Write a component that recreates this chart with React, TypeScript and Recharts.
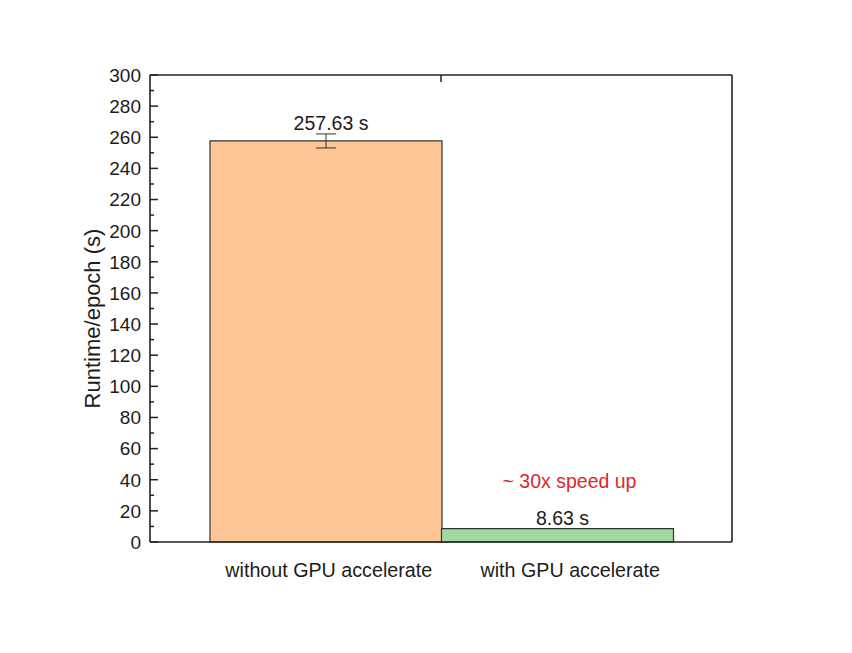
import React from 'react';
import { BarChart, Bar, XAxis, YAxis, Cell, ErrorBar, LabelList } from 'recharts';

const categories = ['without GPU accelerate', 'with GPU accelerate'];
const runtimes = [257.63, 8.63];
const errors = [4.5, null];
const barColors = ['#FEC697', '#A2D9A0'];
const yTicks = [0, 10, 20, 30, 40, 50, 60, 70, 80, 90, 100, 110, 120, 130, 140, 150, 160, 170, 180, 190, 200, 210, 220, 230, 240, 250, 260, 270, 280, 290, 300];
const speedNote = '~ 30x speed up';

const data = categories.map((name, i) => ({ name, runtime: runtimes[i], err: errors[i] }));

const FONT = '"Liberation Sans", Arial, sans-serif';
const INK = '#1c1c1c';
const AXIS = '#222';
const RED = '#E0262C';

// labels sit a little right of the band centre in the original
const xLabelShift = [3, 13];

const LeftTick = ({ x, y, payload }: any) => {
  const major = payload.value % 20 === 0;
  return (
    <g>
      <line x1={x} y1={y} x2={x + (major ? 8 : 4)} y2={y} stroke={AXIS} strokeWidth={1.5} />
      {major && (
        <text x={x - 9} y={y} dy="0.36em" textAnchor="end" fontSize={19} fill={INK} fontFamily={FONT}>
          {payload.value}
        </text>
      )}
    </g>
  );
};

const RightTick = ({ x, y, payload }: any) => {
  const major = payload.value % 20 === 0;
  return <line x1={x} y1={y} x2={x - (major ? 8 : 4)} y2={y} stroke={AXIS} strokeWidth={1.5} />;
};

const TopTick = ({ x, y }: any) => <line x1={x} y1={y} x2={x} y2={y + 7} stroke={AXIS} strokeWidth={1.5} />;

const BottomTick = ({ x, y, payload, index }: any) => (
  <text x={x + (xLabelShift[index] ?? 0)} y={y + 35} textAnchor="middle" fontSize={19.7} fill={INK} fontFamily={FONT}>
    {payload.value}
  </text>
);

const ValueLabel = (props: any) => {
  const { x, y, width, value, index } = props;
  const cx = x + width / 2;
  const lift = index === 0 ? 11 : 4;
  return (
    <g fontFamily={FONT}>
      <text x={cx + 5} y={y - lift} textAnchor="middle" fontSize={19.5} fill={INK}>
        {`${value} s`}
      </text>
      {index === 1 && (
        <text x={cx + 12} y={y - 41} textAnchor="middle" fontSize={19.5} fill={RED}>
          {speedNote}
        </text>
      )}
    </g>
  );
};

const YTitle = ({ viewBox }: any) => {
  const cx = viewBox.x + 2;
  const cy = viewBox.y + viewBox.height / 2 + 10;
  return (
    <text x={cx} y={cy} transform={`rotate(-90 ${cx} ${cy})`} textAnchor="middle" dy="0.36em" fontSize={22} fill={INK} fontFamily={FONT}>
      Runtime/epoch (s)
    </text>
  );
};

export default function App() {
  return (
    <div style={{ position: 'absolute', left: 0, top: 0, width: 852, height: 653, background: '#fff' }}>
      <BarChart width={852} height={653} data={data} barCategoryGap={0}
        margin={{ top: 74, right: 110, bottom: 71, left: 90 }}>
        <XAxis xAxisId="bottom" dataKey="name" padding={{ left: 60, right: 59 }} height={40}
          tickLine={false} tickSize={0} tickMargin={0} interval={0} tick={<BottomTick />}
          axisLine={{ stroke: AXIS, strokeWidth: 1.6 }} />
        <XAxis xAxisId="top" orientation="top" type="number" domain={[0, 1]} allowDataOverflow ticks={[0.5]}
          height={1} tickLine={false} tickSize={0} tickMargin={0} tick={<TopTick />}
          axisLine={{ stroke: AXIS, strokeWidth: 1.6 }} />
        <YAxis yAxisId="left" domain={[0, 300]} ticks={yTicks} interval={0} width={60}
          tickLine={false} tickSize={0} tickMargin={0} tick={<LeftTick />}
          axisLine={{ stroke: AXIS, strokeWidth: 1.6 }} label={<YTitle />} />
        <YAxis yAxisId="right" orientation="right" domain={[0, 300]} ticks={yTicks} interval={0} width={10}
          tickLine={false} tickSize={0} tickMargin={0} tick={<RightTick />}
          axisLine={{ stroke: AXIS, strokeWidth: 1.6 }} />
        <Bar xAxisId="bottom" yAxisId="left" dataKey="runtime" stroke="#333" strokeWidth={1.2} isAnimationActive={false}>
          {data.map((d, i) => <Cell key={d.name} fill={barColors[i]} />)}
          <ErrorBar dataKey="err" width={10} stroke="#333" strokeWidth={1} direction="y" isAnimationActive={false} />
          <LabelList dataKey="runtime" content={<ValueLabel />} />
        </Bar>
      </BarChart>
    </div>
  );
}
